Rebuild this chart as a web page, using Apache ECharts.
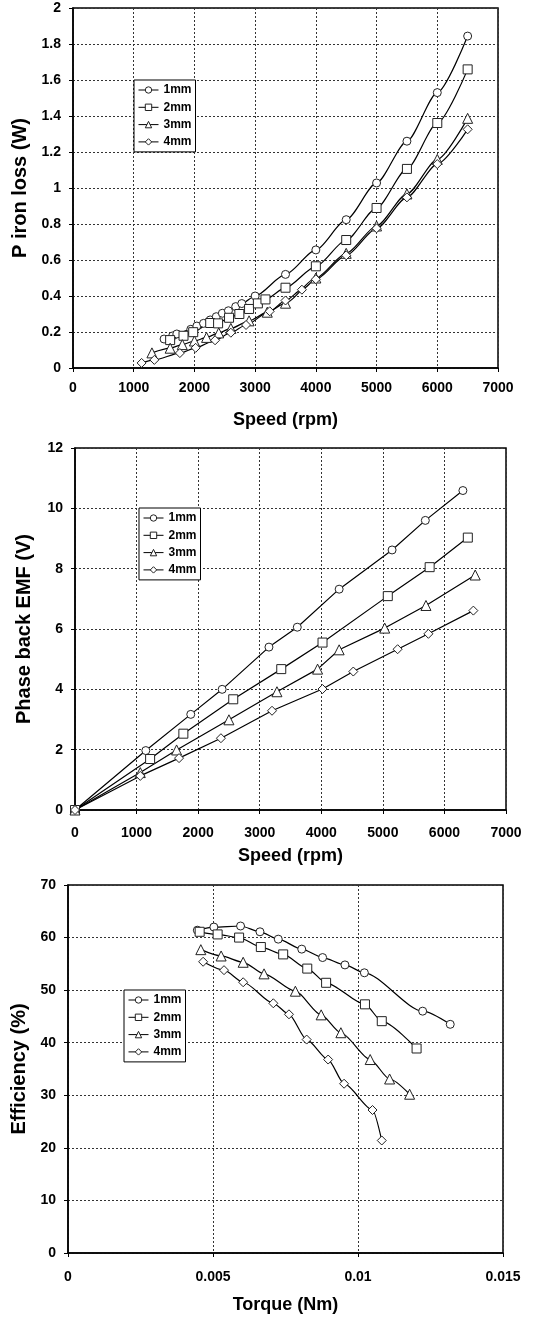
<!DOCTYPE html>
<html>
<head>
<meta charset="utf-8">
<script src="https://cdn.jsdelivr.net/npm/echarts@6/dist/echarts.min.js"></script>
<style>
  html, body { margin: 0; padding: 0; background: #fff; }
  #chart { width: 534px; height: 1320px; }
</style>
</head>
<body>
<div id="chart"></div>
<script>
// Air-gap series shown in every panel
const seriesNames = ['1mm', '2mm', '3mm', '4mm'];

// Iron loss (W) against speed (rpm): [speed, loss]
const ironLoss1mm = [[1500,0.161],[1640,0.178],[1710,0.189],[1940,0.215],[2040,0.233],[2150,0.248],[2260,0.267],[2360,0.285],[2460,0.304],[2560,0.318],[2680,0.341],[2780,0.358],[3000,0.40],[3500,0.52],[4000,0.656],[4500,0.824],[5000,1.028],[5500,1.26],[6000,1.53],[6500,1.844]];
const ironLoss2mm = [[1600,0.155],[1820,0.179],[1980,0.199],[2260,0.25],[2390,0.248],[2570,0.279],[2740,0.30],[2900,0.328],[3045,0.359],[3170,0.381],[3500,0.446],[4000,0.565],[4500,0.711],[5000,0.889],[5500,1.106],[6000,1.361],[6500,1.659]];
const ironLoss3mm = [[1300,0.084],[1600,0.11],[1800,0.13],[2000,0.15],[2200,0.17],[2400,0.195],[2600,0.22],[2900,0.262],[3200,0.31],[3500,0.36],[4000,0.50],[4500,0.637],[5000,0.789],[5500,0.967],[6000,1.159],[6500,1.387]];
const ironLoss4mm = [[1130,0.028],[1340,0.045],[1760,0.083],[2020,0.112],[2340,0.154],[2600,0.196],[2850,0.239],[3240,0.315],[3500,0.375],[3770,0.435],[4000,0.493],[4500,0.626],[5000,0.776],[5500,0.948],[6000,1.133],[6500,1.326]];

// Phase back EMF (V) against speed (rpm): [speed, emf]
const backEmf1mm = [[0,0],[1150,1.97],[1880,3.17],[2390,4.0],[3150,5.4],[3610,6.06],[4290,7.32],[5150,8.62],[5690,9.6],[6300,10.59]];
const backEmf2mm = [[0,0],[1220,1.69],[1760,2.53],[2570,3.67],[3350,4.67],[4020,5.55],[5080,7.09],[5760,8.05],[6380,9.03]];
const backEmf3mm = [[0,0],[1060,1.24],[1650,1.99],[2500,2.99],[3280,3.92],[3940,4.67],[4290,5.31],[5030,6.03],[5700,6.78],[6500,7.79]];
const backEmf4mm = [[0,0],[1060,1.13],[1690,1.72],[2370,2.38],[3200,3.29],[4020,4.01],[4520,4.59],[5240,5.33],[5740,5.84],[6470,6.61]];

// Efficiency (%) against torque (Nm): [torque, efficiency]
const efficiency1mm = [[0.00446,61.4],[0.00503,62.0],[0.00595,62.2],[0.00662,61.1],[0.00725,59.7],[0.00806,57.8],[0.00878,56.2],[0.00955,54.8],[0.01022,53.3],[0.01223,46.0],[0.01318,43.5]];
const efficiency2mm = [[0.00454,61.1],[0.00516,60.6],[0.0059,60.0],[0.00665,58.2],[0.00742,56.8],[0.00825,54.1],[0.0089,51.4],[0.01024,47.3],[0.01082,44.1],[0.01202,38.9]];
const efficiency3mm = [[0.00458,57.7],[0.00528,56.5],[0.00604,55.3],[0.00676,53.1],[0.00784,49.8],[0.00873,45.3],[0.00941,41.9],[0.01042,36.8],[0.01109,33.1],[0.01178,30.2]];
const efficiency4mm = [[0.00466,55.4],[0.00538,53.8],[0.00604,51.5],[0.00708,47.5],[0.00762,45.4],[0.00823,40.6],[0.00897,36.8],[0.00952,32.2],[0.0105,27.2],[0.01082,21.4]];

// Axis titles
const xTitles = ['Speed (rpm)', 'Speed (rpm)', 'Torque (Nm)'];
const yTitles = ['P iron loss (W)', 'Phase back EMF (V)', 'Efficiency (%)'];

const FONT = 'Arial, "Liberation Sans", Helvetica, sans-serif';
const markerShapes = ['circle', 'rect', 'triangle', 'diamond'];
const markerSizes = [8, 9, 10, 9];

const panelData = [
  [ironLoss1mm, ironLoss2mm, ironLoss3mm, ironLoss4mm],
  [backEmf1mm, backEmf2mm, backEmf3mm, backEmf4mm],
  [efficiency1mm, efficiency2mm, efficiency3mm, efficiency4mm]
];
const panelSmooth = [0.25, false, 0.25];

const grids = [
  { left: 73, top: 8, right: 36, height: 360 },
  { left: 75, top: 448, right: 28, height: 362 },
  { left: 68, top: 885, right: 31, height: 368 }
].map(g => Object.assign(g, { show: true, borderColor: '#000', borderWidth: 1.5, backgroundColor: '#fff', containLabel: false }));

const xRanges = [
  { min: 0, max: 7000, interval: 1000 },
  { min: 0, max: 7000, interval: 1000 },
  { min: 0, max: 0.015, interval: 0.005 }
];
const yRanges = [
  { min: 0, max: 2, interval: 0.2 },
  { min: 0, max: 12, interval: 2 },
  { min: 0, max: 70, interval: 10 }
];

// plain numbers, no thousands separators
const plainNumber = v => String(+v.toPrecision(6));

const axisLineStyle = { show: true, lineStyle: { color: '#000', width: 1.5 } };
const tickStyle = { show: true, inside: false, length: 4, lineStyle: { color: '#000', width: 1 } };
const gridLineStyle = { show: true, lineStyle: { color: '#333', width: 1, type: [2, 2] } };
const labelStyle = { color: '#000', fontFamily: FONT, fontWeight: 'bold', fontSize: 14, formatter: plainNumber };
const xNameStyle = { color: '#000', fontFamily: FONT, fontWeight: 'bold', fontSize: 18 };
const yNameStyle = { color: '#000', fontFamily: FONT, fontWeight: 'bold', fontSize: 20 };

const xAxes = xRanges.map((r, i) => Object.assign({
  type: 'value', gridIndex: i,
  name: xTitles[i], nameLocation: 'middle', nameGap: [43, 37, 43][i], nameTextStyle: xNameStyle,
  axisLine: axisLineStyle, axisTick: tickStyle, splitLine: gridLineStyle,
  axisLabel: Object.assign({ showMinLabel: true, showMaxLabel: true, margin: [13, 16, 17][i] }, labelStyle)
}, r));

const yAxes = yRanges.map((r, i) => Object.assign({
  type: 'value', gridIndex: i,
  name: yTitles[i], nameLocation: 'middle', nameRotate: 90,
  nameGap: i === 2 ? 36 : 41, nameTextStyle: yNameStyle,
  axisLine: axisLineStyle, axisTick: tickStyle, splitLine: gridLineStyle,
  axisLabel: Object.assign({ showMinLabel: true, showMaxLabel: true, margin: 12 }, labelStyle)
}, r));

const series = [];
panelData.forEach((sets, p) => {
  sets.forEach((pts, k) => {
    series.push({
      type: 'line',
      name: seriesNames[k],
      xAxisIndex: p, yAxisIndex: p,
      data: pts,
      smooth: panelSmooth[p],
      smoothMonotone: 'x',
      symbol: markerShapes[k],
      symbolSize: markerSizes[k],
      showSymbol: true,
      lineStyle: { color: '#000', width: 1.2 },
      itemStyle: { color: '#fff', borderColor: '#222', borderWidth: 1 },
      emphasis: { disabled: true },
      animation: false,
      z: 3
    });
  });
});

const legendPositions = [
  { left: 134, top: 80 },
  { left: 139, top: 508 },
  { left: 124, top: 990 }
];
const legends = legendPositions.map(pos => Object.assign({
  orient: 'vertical',
  data: seriesNames,
  backgroundColor: '#fff',
  borderColor: '#000', borderWidth: 1,
  padding: [4, 4, 4, 4],
  itemWidth: 20, itemHeight: 8, itemGap: 5.3,
  selectedMode: false,
  itemStyle: { borderWidth: 1 },
  lineStyle: { width: 1 },
  textStyle: { color: '#000', fontFamily: FONT, fontWeight: 'bold', fontSize: 12, lineHeight: 12 }
}, pos));

const chart = echarts.init(document.getElementById('chart'), null, { renderer: 'canvas' });
chart.setOption({
  backgroundColor: '#fff',
  animation: false,
  grid: grids,
  xAxis: xAxes,
  yAxis: yAxes,
  legend: legends,
  series: series
});
</script>
</body>
</html>
